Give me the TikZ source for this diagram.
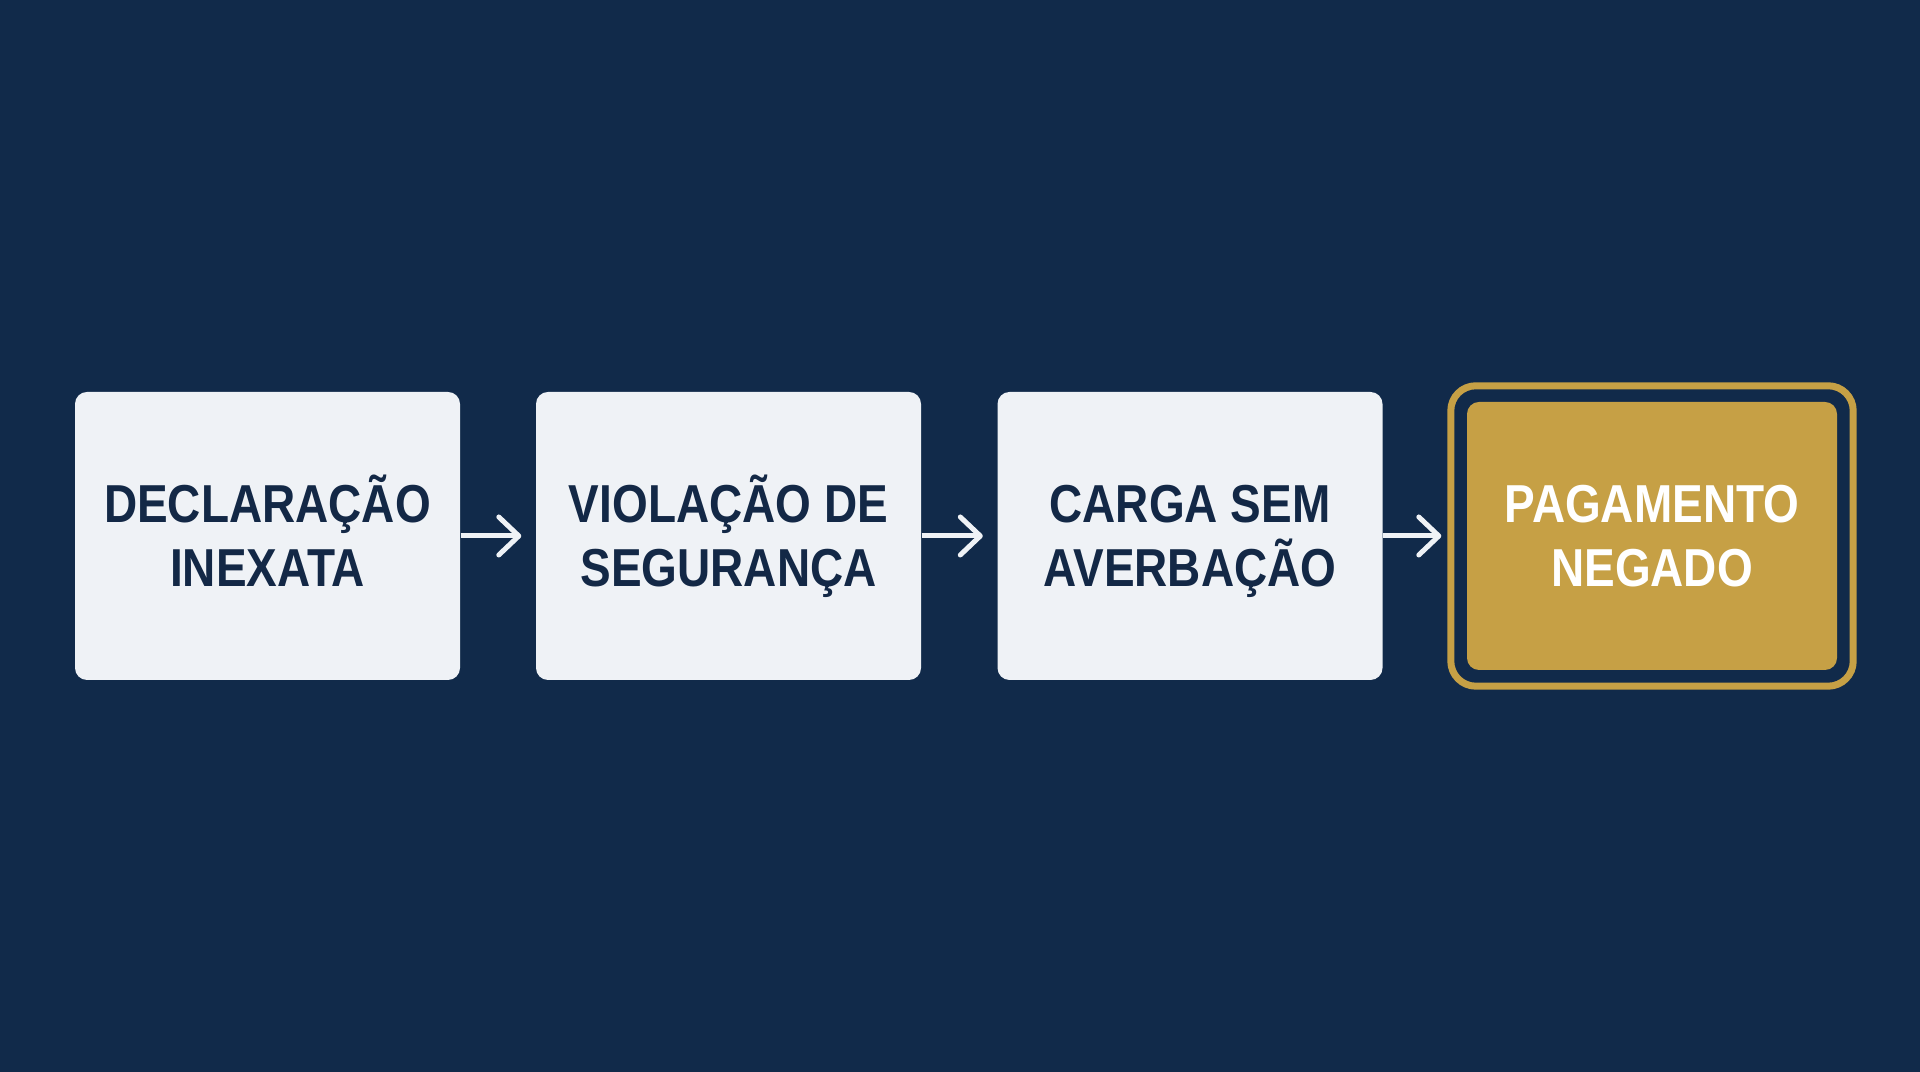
\documentclass[tikz,border=0pt]{standalone}
\usepackage{xcolor}
\usepackage{fontspec}
\setmainfont[FakeStretch=0.86]{Liberation Sans}
\usepackage{tikz}
\usetikzlibrary{calc,arrows.meta}

\definecolor{navybg}{RGB}{17,42,74}
\definecolor{navytext}{RGB}{19,40,70}
\definecolor{paper}{RGB}{239,242,246}
\definecolor{gold}{RGB}{198,160,69}

% one line of box text, as tall as a capital letter
\newcommand{\capln}[1]{\rule{0pt}{3.8mm}\smash{#1}}

\begin{document}
\begin{tikzpicture}[
    stepbox/.style={fill=paper, rounded corners=0.12cm, minimum width=3.85cm,
      minimum height=2.88cm, inner sep=0pt, align=center, text=navytext,
      font=\fontsize{15.2}{18.2}\selectfont\bfseries},
    goldbox/.style={stepbox, fill=gold, text=white, minimum width=3.70cm,
      minimum height=2.68cm},
    flowarrow/.style={draw=paper, line width=0.5mm, shorten >=0.14cm,
      -{Straight Barb[length=2mm,width=3.8mm,round]}}
  ]
    \fill[navybg] (0,0) rectangle (19.2,10.72);

    \node[stepbox] (decl) at (2.675,5.36) {\capln{DECLARAÇÃO}\\\capln{INEXATA}};
    \node[stepbox] (viol) at (7.285,5.36) {\capln{VIOLAÇÃO DE}\\\capln{SEGURANÇA}};
    \node[stepbox] (carga) at (11.90,5.36) {\capln{CARGA SEM}\\\capln{AVERBAÇÃO}};
    \node[goldbox] (neg) at (16.52,5.36) {\capln{PAGAMENTO}\\\capln{NEGADO}};

    % gold ring round the last box
    \draw[gold, line width=0.7mm, rounded corners=0.25cm]
      ($(neg.south west)+(-0.155,-0.155)$) rectangle ($(neg.north east)+(0.155,0.155)$);

    \draw[flowarrow] (decl.east) -- (viol.west);
    \draw[flowarrow] (viol.east) -- (carga.west);
    \draw[flowarrow] (carga.east) -- ($(neg.west)+(-0.11,0)$);
\end{tikzpicture}
\end{document}
